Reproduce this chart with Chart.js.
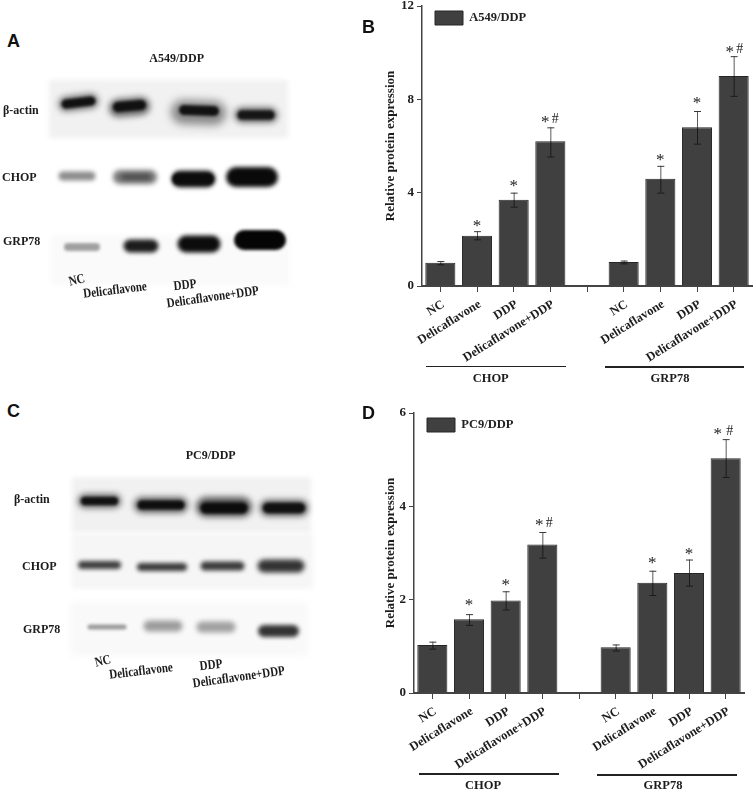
<!DOCTYPE html>
<html><head><meta charset="utf-8">
<script src="https://cdn.jsdelivr.net/npm/chart.js@4"></script>
<style>
html,body{margin:0;padding:0;background:#fff;width:753px;height:790px;overflow:hidden}
#stage{position:relative;width:753px;height:790px;overflow:hidden;background:#fff}
canvas{position:absolute}
.t{position:absolute;white-space:nowrap;font:bold 13px "Liberation Serif",serif;color:#1c1c1c;transform-origin:center center}
.l{position:absolute;background:#222;height:1.5px}
.p{position:absolute;font:bold 18px "Liberation Sans",sans-serif;color:#111}
</style></head><body><div id="stage"></div>
<script>
const categories=['NC','Delicaflavone','DDP','Delicaflavone+DDP','','NC','Delicaflavone','DDP','Delicaflavone+DDP'];
const valuesB=[1.0,2.15,3.7,6.2,null,1.03,4.6,6.8,9.0];
const highB=[1.07,2.35,4.0,6.8,null,1.09,5.15,7.5,9.85];
const lowB=[0.93,2.0,3.4,5.55,null,0.97,4.0,6.1,8.15];
const starB=['','*','*','*','','','*','*','*'];
const hashB=['','','','#','','','','','#'];
const ticksB=[0,4,8,12];
const valuesD=[1.03,1.58,1.98,3.18,null,0.98,2.36,2.57,5.03];
const highD=[1.10,1.69,2.18,3.45,null,1.04,2.62,2.86,5.44];
const lowD=[0.95,1.46,1.79,2.9,null,0.91,2.1,2.3,4.63];
const starD=['','*','*','*','','','*','*','*'];
const hashD=['','','','#','','','','','#'];
const ticksD=[0,2,4,6];

// Blot picture: [x0,y0,x1,y1,thickness,gray,blur]
const blotPanelsA=[[49,109,288,109,58,'#f1f1f1',2],[50,260,290,260,50,'#fafafa',3]];
const blotBandsA=[
[66,104,91,101,15,'#777',3],[66,104,91,101,9,'#111',1.5],
[118,108,141,106,18,'#666',3],[118,107,141,105,10,'#111',1.5],
[183,112,214,113,24,'#888',4],[184,110,214,111,10,'#111',1.5],
[242,115,270,115,15,'#666',3],[242,115,270,115,9,'#151515',1.5],
[63,176,91,176,9,'#8c8c8c',2],
[120,177,150,177,14,'#777',2.5],[124,177,148,177,5,'#4a4a4a',2],
[180,179,207,179,17,'#222',2],[178,179,208,179,11,'#0c0c0c',1.5],
[236,177,268,177,20,'#0a0a0a',2],
[68,247,96,247,8,'#a0a0a0',1.5],
[130,246,152,246,13,'#1c1c1c',2],
[186,244,212,244,17,'#0c0c0c',2],
[244,240,276,240,20,'#050505',1.5]
];
const blotPanelsC=[[72,505,311,505,55,'#f1f1f1',2],[72,561,313,561,55,'#f6f6f6',2],[70,629,308,629,54,'#f9f9f9',3]];
const blotBandsC=[
[85,501,114,501,14,'#666',3],[85,501,114,501,8,'#111',1.5],
[142,505,180,505,16,'#666',3],[142,505,180,505,9,'#0e0e0e',1.5],
[206,507,242,507,20,'#555',3],[206,508,242,508,11,'#0c0c0c',1.5],
[268,508,300,508,16,'#555',3],[268,508,300,508,10,'#111',1.5],
[82,565,117,565,8,'#3c3c3c',2],
[141,567,183,567,8,'#3a3a3a',2],
[205,566,240,566,9,'#3a3a3a',2],
[264,566,298,566,13,'#333',2.5],
[90,627,124,627,5,'#9a9a9a',1.5],
[149,626,177,626,11,'#9c9c9c',2.5],
[202,627,230,627,11,'#a0a0a0',2.5],
[264,631,293,631,12,'#333',2]
];

const SERIF='"Liberation Serif",serif';
const stage=document.getElementById('stage');
function addCanvas(l,t,w,h){const c=document.createElement('canvas');c.width=w;c.height=h;c.style.cssText=`left:${l}px;top:${t}px;width:${w}px;height:${h}px`;stage.appendChild(c);return c;}
function text(s,cx,cy,size,rot,sx){const d=document.createElement('div');d.className='t';d.textContent=s;d.style.fontSize=size+'px';stage.appendChild(d);
 const r=d.getBoundingClientRect();d.style.left=(cx-r.width/2)+'px';d.style.top=(cy-r.height/2)+'px';d.style.transform=`rotate(${rot||0}deg) scaleX(${sx||1})`;return d;}
function leftText(s,x,cy,size){const d=text(s,0,cy,size);d.style.left=x+'px';return d;}
function hline(x0,x1,y){const d=document.createElement('div');d.className='l';d.style.cssText=`left:${x0}px;top:${y}px;width:${x1-x0}px`;stage.appendChild(d);}
function letter(s,x,y){const d=document.createElement('div');d.className='p';d.textContent=s;d.style.left=x+'px';d.style.top=y+'px';stage.appendChild(d);}

const blurPlugin={id:'blur',
 beforeDatasetDraw(c,a){c.ctx.save();c.ctx.filter=`blur(${c.data.datasets[a.index].blur}px)`;},
 afterDatasetDraw(c){c.ctx.restore();}};
function blot(top,h,rows){
 const cv=addCanvas(0,top,370,h);
 const ds=rows.map(r=>({data:[{x:r[0],y:r[1]-top},{x:r[2],y:r[3]-top}],borderWidth:r[4],borderColor:r[5],blur:r[6],pointRadius:0,tension:0,clip:false,
   borderCapStyle:r[4]>30?'butt':'round'})).reverse();
 new Chart(cv,{type:'line',data:{datasets:ds},plugins:[blurPlugin],options:{responsive:false,animation:false,
  layout:{padding:0},plugins:{legend:{display:false},tooltip:{enabled:false}},
  scales:{x:{type:'linear',min:0,max:370,display:false},y:{min:0,max:h,reverse:true,display:false}}}});
}
blot(60,280,blotPanelsA.concat(blotBandsA));
blot(440,260,blotPanelsC.concat(blotBandsC));

const errPlugin={id:'err',
 afterLayout(c){const L=c.legend;L.top=c.chartArea.top+5-12;L.left=c.chartArea.left+1;},
 afterDatasetsDraw(c,_,o){
 const ctx=c.ctx,y=c.scales.y,m=c.getDatasetMeta(0);ctx.save();
 m.data.forEach((b,i)=>{ if(o.high[i]==null)return;
  const h=y.getPixelForValue(o.high[i]),l=y.getPixelForValue(o.low[i]),v=y.getPixelForValue(o.value[i]);
  ctx.lineWidth=1;
  ctx.strokeStyle='#5a5a5a';ctx.beginPath();ctx.moveTo(b.x+.5,h);ctx.lineTo(b.x+.5,v);ctx.stroke();
  ctx.strokeStyle='#1a1a1a';ctx.beginPath();ctx.moveTo(b.x+.5,v);ctx.lineTo(b.x+.5,l);ctx.moveTo(b.x-3,l+.5);ctx.lineTo(b.x+4,l+.5);ctx.stroke();
  ctx.strokeStyle='#3a3a3a';ctx.beginPath();ctx.moveTo(b.x-3,h+.5);ctx.lineTo(b.x+4,h+.5);ctx.stroke();
  ctx.fillStyle='#222';ctx.textAlign='center';ctx.textBaseline='middle';
  const both=o.hash[i];
  if(o.star[i]){ctx.font='17px '+SERIF;ctx.fillText(o.star[i],b.x+(both?o.sx[i]:0),h-o.gapStar[i]+3);}
  if(both){ctx.font='14px '+SERIF;ctx.fillText(both,b.x+o.hx[i],h-o.gapStar[i]);}
 });ctx.restore();}};

function panel(cfg){
 const cv=addCanvas(cfg.left,cfg.top,cfg.width,cfg.height);
 new Chart(cv,{type:'bar',plugins:[errPlugin],data:{labels:categories,datasets:[{label:cfg.label,data:cfg.values,backgroundColor:'#404040',borderColor:'#262626',borderWidth:1,barPercentage:.82,categoryPercentage:1}]},
 options:{responsive:false,animation:false,
  layout:{padding:{top:cfg.padTop,right:cfg.padRight,left:0,bottom:0}},
  plugins:{tooltip:{enabled:false},
   err:{value:cfg.values,high:cfg.high,low:cfg.low,star:cfg.star,hash:cfg.hash,gapStar:cfg.gap,sx:cfg.sx,hx:cfg.hx},
   legend:{display:true,position:'chartArea',align:'start',
     labels:{boxWidth:28,boxHeight:14,padding:cfg.legPad,color:'#222',font:{family:SERIF,weight:'bold',size:12.5}}}},
  scales:{
   x:{type:'category',afterFit:s=>{s.height=cfg.xH},
     grid:{offset:false,drawOnChartArea:false,drawTicks:true,tickLength:6,tickColor:'#444',tickWidth:1},
     border:{color:'#444',width:2},
     ticks:{autoSkip:false,minRotation:32,maxRotation:32,padding:5,labelOffset:3,color:'#1c1c1c',font:{family:SERIF,weight:'bold',size:12.5}}},
   y:{min:0,max:cfg.ticks[3],afterFit:s=>{s.width=cfg.yW},
     afterBuildTicks:s=>{s.ticks=cfg.ticks.map(v=>({value:v}))},
     grid:{drawOnChartArea:false,drawTicks:true,tickLength:5,tickColor:'#444',tickWidth:1},
     border:{color:'#444',width:1.5},
     ticks:{padding:3,color:'#1c1c1c',font:{family:SERIF,weight:'bold',size:13}},
     title:{display:true,text:'Relative protein expression',color:'#1c1c1c',padding:{top:13,bottom:0},font:{family:SERIF,weight:'bold',size:13}}}
  }}});
}
panel({left:370,top:-20,width:383,height:420,padTop:26,padRight:1,xH:114,yW:52,label:'A549/DDP',values:valuesB,high:highB,low:lowB,star:starB,hash:hashB,ticks:ticksB,legPad:12,
 sx:[0,0,0,-5,0,0,0,0,-4],hx:[0,0,0,5,0,0,0,0,6],gap:[0,8,9,8,0,0,8,10,7]});
panel({left:370,top:393,width:383,height:397,padTop:20,padRight:9,xH:97,yW:44,label:'PC9/DDP',values:valuesD,high:highD,low:lowD,star:starD,hash:hashD,ticks:ticksD,legPad:12,
 sx:[0,0,0,-3,0,0,0,0,-8],hx:[0,0,0,7,0,0,0,0,4],gap:[0,12,9,9,0,0,10,8,8]});

hline(426,566,365.5);hline(605,744,366);
text('CHOP',490.7,378,12.5);text('GRP78',670,378,12.5);
hline(419,559,773);hline(597,737,774);
text('CHOP',483,785,12.5);text('GRP78',663,785,12.5);

letter('A',7,31);letter('B',362,17);letter('C',7,401);letter('D',362,403);
text('A549/DDP',176.7,58,12);text('PC9/DDP',210.7,455,12);
leftText('β-actin',3,110,12);leftText('CHOP',2,177,12);leftText('GRP78',3,241,12);
leftText('β-actin',14,499,12);leftText('CHOP',22,566,12);leftText('GRP78',23,629,12);
const sx=.82;
text('NC',77,280,13.5,-14,sx);text('Delicaflavone',115,290,13.5,-7,sx);text('DDP',185,285,13.5,-6,sx);text('Delicaflavone+DDP',213,297,13.5,-8,sx);
text('NC',103,661,13.5,-14,sx);text('Delicaflavone',141,671,13.5,-7,sx);text('DDP',211,665,13.5,-6,sx);text('Delicaflavone+DDP',239,677,13.5,-8,sx);
</script></body></html>
